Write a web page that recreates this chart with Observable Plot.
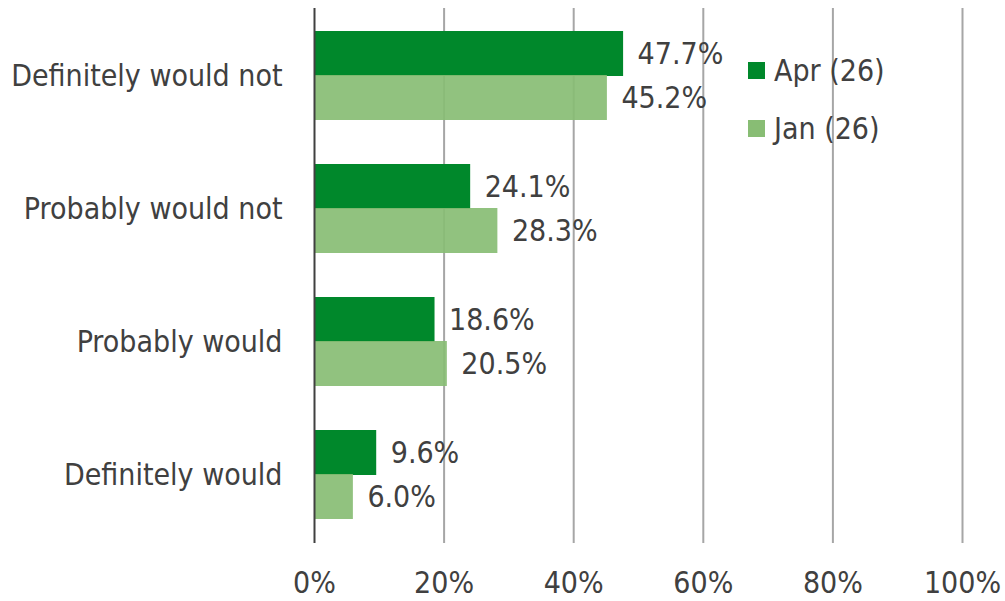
<!DOCTYPE html>
<html>
<head>
<meta charset="utf-8">
<script src="https://cdn.jsdelivr.net/npm/d3@7"></script>
<script src="https://cdn.jsdelivr.net/npm/@observablehq/plot@0.6"></script>
<style>
  html, body { margin: 0; padding: 0; background: #fff; }
  #wrap { position: relative; width: 1005px; height: 601px; font-family: "DejaVu Sans Condensed", "DejaVu Sans", Verdana, sans-serif; font-stretch: condensed; }
  #wrap svg text { font-stretch: condensed; }
  #legend { position: absolute; left: 748px; top: 55px; font-size: 30px; color: #404040; }
  .item { display: flex; align-items: center; height: 30px; margin-bottom: 28px; }
  .sw { width: 17px; height: 17px; margin-right: 9px; }
</style>
</head>
<body>
<div id="wrap"></div>
<script>
const categories = ["Definitely would not", "Probably would not", "Probably would", "Definitely would"];
const series = ["Apr (26)", "Jan (26)"];
const aprValues = [47.7, 24.1, 18.6, 9.6];
const janValues = [45.2, 28.3, 20.5, 6.0];
const xTicks = [0, 20, 40, 60, 80, 100];
const colors = ["#00882b", "#88bd74"];

const apr = categories.map((c, i) => ({category: c, series: series[0], value: aprValues[i]}));
const jan = categories.map((c, i) => ({category: c, series: series[1], value: janValues[i]}));

const half = 44;
const font = "'DejaVu Sans Condensed', 'DejaVu Sans', Verdana, sans-serif";

const chart = Plot.plot({
  width: 1005,
  height: 601,
  marginLeft: 314,
  marginRight: 43,
  marginTop: 8,
  marginBottom: 58,
  style: {fontFamily: font, fontSize: "30px", color: "#404040", background: "#fff"},
  x: {domain: [0, 100], ticks: xTicks, tickFormat: d => d + "%", tickSize: 0, tickPadding: 28, label: null},
  y: {domain: categories, paddingInner: 0.328, paddingOuter: 0.164, tickSize: 0, tickPadding: 32, label: null},
  marks: [
    Plot.ruleX(xTicks.filter(d => d > 0), {stroke: "#a6a6a6", strokeWidth: 2}),
    Plot.barX(apr, {y: "category", x: "value", fill: colors[0], insetBottom: half}),
    Plot.barX(jan, {y: "category", x: "value", fill: colors[1], fillOpacity: 0.92, insetTop: half}),
    Plot.ruleX([0], {stroke: "#404040", strokeWidth: 2}),
    Plot.text(apr, {y: "category", x: "value", text: d => d.value.toFixed(1) + "%", dy: -half / 2, dx: 14, textAnchor: "start", fill: "#404040", fontSize: 30}),
    Plot.text(jan, {y: "category", x: "value", text: d => d.value.toFixed(1) + "%", dy: half / 2, dx: 14, textAnchor: "start", fill: "#404040", fontSize: 30})
  ]
});

const wrap = document.getElementById("wrap");
wrap.appendChild(chart);

const legend = document.createElement("div");
legend.id = "legend";
series.forEach((s, i) => {
  const item = document.createElement("div");
  item.className = "item";
  const sw = document.createElement("span");
  sw.className = "sw";
  sw.style.background = colors[i];
  const t = document.createElement("span");
  t.textContent = s;
  item.appendChild(sw);
  item.appendChild(t);
  legend.appendChild(item);
});
wrap.appendChild(legend);
</script>
</body>
</html>
